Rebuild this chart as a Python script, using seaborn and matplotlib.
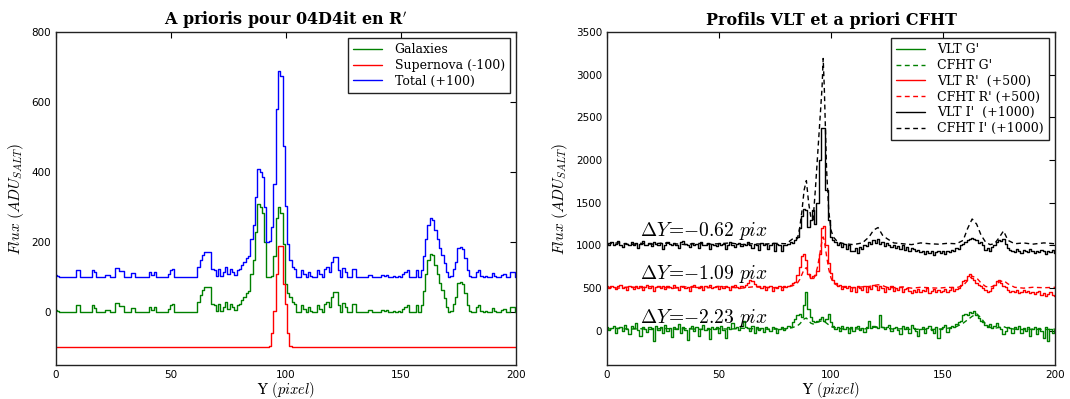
"""
A priori profiles (04D4it) and VLT/CFHT profile comparison
"""

import matplotlib
matplotlib.use("Agg")
import matplotlib.pyplot as plt
import numpy as np
import seaborn as sns

# ---- left panel: a priori profiles in R' (pixel 0..200) ----
pix = list(range(201))

galaxies = [
    8, 5, 0, 0, 0, 0, 0, 0, 0, 22,
    22, 0, 0, 0, 0, 0, 22, 14, 0, 0,
    0, 0, 6, 6, 0, 0, 28, 28, 18, 18,
    0, 0, 0, 12, 12, 0, 0, 0, 0, 0,
    0, 15, 8, 15, 0, 0, 0, 0, 0, 10,
    22, 25, 0, 0, 0, 0, 0, 0, 0, 0,
    0, 0, 30, 50, 65, 72, 72, 72, 25, 20,
    5, 25, 5, 15, 30, 10, 25, 15, 8, 20,
    25, 35, 45, 55, 60, 110, 150, 230, 310, 300,
    285, 200, 100, 100, 105, 160, 270, 300, 285, 195,
    80, 55, 45, 30, 25, 0, 0, 20, 10, 0,
    15, 5, 0, 0, 20, 10, 0, 25, 30, 15,
    45, 58, 58, 20, 0, 28, 15, 0, 0, 25,
    25, 0, 0, 0, 0, 0, 8, 8, 0, 0,
    0, 0, 8, 5, 8, 0, 0, 5, 0, 5,
    0, 10, 15, 20, 0, 0, 0, 20, 0, 20,
    60, 110, 150, 168, 165, 135, 110, 85, 65, 40,
    15, 0, 5, 25, 45, 85, 88, 80, 55, 20,
    5, 0, 0, 15, 20, 5, 0, 5, 0, 0,
    12, 5, 0, 0, 8, 10, 0, 0, 15, 15,
    0,
]

supernova = [0] * 93 + [5, 40, 105, 210, 290, 290, 180, 125, 40, 5] + [0] * 98

# ---- right panel: VLT profiles (raw, offsets added at plot time) ----
vlt_g = [
    40, 10, 30, 60, -20, 30, 50, 0, 70, 20,
    -40, 60, 30, 90, 10, -60, 40, 20, -10, 50,
    30, -120, 60, 10, 40, -30, 70, 0, 30, -70,
    50, 20, 80, -20, 40, 10, -110, 30, 60, 0,
    40, -60, 20, 70, 10, 30, -100, 50, 20, 40,
    -30, 60, 10, -80, 40, 20, 90, 30, 50, 10,
    60, 120, 40, 30, 0, 60, -20, 40, 10, 30,
    -10, 50, 20, 0, 40, 30, -20, 20, 40, 10,
    30, 60, 50, 100, 140, 180, 200, 160, 300, 450,
    260, 160, 120, 100, 120, 140, 160, 120, 140, 200,
    100, 60, 20, 40, 0, 60, 20, 40, -30, 50,
    0, 40, 60, 10, 30, -10, 40, 120, 30, 60,
    40, 30, 180, 50, 20, 40, 70, 0, 30, 50,
    10, -40, 60, 20, 40, -20, 70, 30, 0, -60,
    20, 40, -30, 30, 60, 10, -20, 50, -80, 20,
    40, 70, -10, 30, 60, 50, 80, 100, 120, 180,
    200, 190, 220, 210, 230, 190, 150, 120, 100, 70,
    40, 80, 30, 60, 90, 50, 20, -40, 0, 50,
    30, -20, 40, 20, 60, -30, 30, 0, 40, -60,
    20, 50, -40, 30, 0, -80, 40, -120, 20, -30,
    10,
]

vlt_r = [
    20, 0, 30, 10, -10, 20, 40, 0, 10, -20,
    30, 10, -10, 20, 0, 30, -20, 10, 40, 0,
    20, -30, 10, 30, 0, 20, -10, 30, 10, 0,
    40, 10, -20, 20, 30, 0, 10, -30, 20, 40,
    10, 0, 30, -20, 20, 10, 40, 0, 10, 30,
    -10, 20, 0, 30, 10, -20, 20, 40, 10, 0,
    30, 10, 40, 60, 90, 80, 50, 20, 30, 0,
    20, -20, 10, 30, -30, 10, 0, 30, -20, 20,
    10, 30, 40, 60, 70, 150, 250, 380, 400, 330,
    160, 120, 140, 150, 200, 400, 700, 730, 500, 300,
    180, 100, 60, 20, 40, -10, 30, 0, 20, -30,
    10, -50, 20, 0, -20, 30, -40, 10, -10, 40,
    20, -20, 30, 0, -40, 10, -10, 20, -30, 0,
    -20, 10, -40, -10, 0, -30, -60, -20, -40, -10,
    -50, -20, -30, 0, -60, -30, -10, -40, -20, -50,
    -30, -10, -40, -20, 10, -30, -10, 0, 40, 80,
    100, 140, 160, 120, 90, 60, 40, 20, 0, -20,
    -40, -30, 0, 40, 80, 90, 60, 30, 10, -20,
    -40, -30, -50, -20, -60, -40, -20, -50, -30, -60,
    -40, -70, -50, -30, -80, -60, -90, -70, -50, -80,
    -90,
]

vlt_i = [
    30, 10, 40, 0, 20, 50, 10, -20, 30, 20,
    0, 40, 10, 30, -30, 20, 50, 0, 10, 30,
    -10, 40, 20, 0, 30, -40, 10, 40, 20, 0,
    30, 10, -30, 40, 50, 20, 0, -20, 30, 10,
    20, -30, 40, 0, 10, 30, -40, 20, 10, -10,
    30, 0, 20, -40, 10, 40, 0, -20, 20, 30,
    -10, 20, 0, 40, 10, -30, 20, 10, -50, 30,
    0, 20, -40, 10, 30, -60, 20, 0, -70, 10,
    0, 20, 40, 30, 60, 100, 200, 350, 430, 420,
    220, 300, 420, 250, 500, 1000, 1380, 1380, 650, 300,
    100, 60, 40, 10, 30, -20, 20, -40, 0, -60,
    -70, -30, -90, -20, -40, 10, -10, 40, 20, 60,
    30, 70, 20, 40, -10, 30, 0, -20, 10, -30,
    -10, -40, 0, -50, -20, -60, -30, -40, -70, -50,
    -80, -60, -100, -70, -90, -60, -110, -80, -60, -90,
    -70, -100, -60, -80, -50, -60, -30, -40, 0, 20,
    40, 60, 80, 90, 70, 60, 30, 40, 0, -50,
    -30, -60, -20, 0, 40, 60, 50, 70, 20, -30,
    -50, -60, -80, -40, -70, -90, -50, -60, -80, -40,
    -70, -90, -60, -80, -50, -70, -100, -60, -80, -50,
    -90,
]

# CFHT a priori profiles, read at a coarser set of pixels
cfht_x = [0, 5, 10, 15, 20, 25, 30, 35, 40, 45, 50, 55, 60, 65, 70, 75, 80,
          83, 85, 86, 87, 88, 89, 90, 91, 92, 93, 94, 95, 96, 96.5, 97, 98, 99, 100, 101,
          103, 106, 110, 114, 117, 119, 121, 123, 125, 128, 132, 136, 140, 144, 148, 152, 156, 159,
          161, 163, 165, 167, 169, 171, 173, 175, 177, 179, 182, 186, 190, 195, 200]
cfht_g = [20, 30, 20, 25, 15, 30, 20, 25, 20, 15, 25, 20, 30, 25, 20, 20, 25,
          40, 60, 80, 110, 140, 150, 120, 90, 80, 90, 100, 110, 120, 120, 110, 90, 70, 50, 40,
          30, 20, 25, 20, 30, 40, 50, 40, 30, 20, 25, 15, 20, 15, 20, 30, 50, 90,
          130, 170, 200, 150, 80, 40, 30, 40, 50, 30, 20, 15, 20, 15, 20]
cfht_r = [10, 0, 15, 5, 20, 10, 0, 15, 10, 5, 20, 10, 0, 15, 10, 5, 10,
          30, 60, 100, 160, 220, 240, 180, 110, 100, 150, 250, 400, 560, 600, 560, 380, 220, 120, 60,
          30, 10, 5, 15, 20, 30, 40, 30, 10, 5, 15, 0, 10, 5, 0, 10, 5, 30,
          90, 140, 120, 60, 20, 10, 30, 70, 90, 50, 10, 0, 10, 5, 10]
cfht_i = [20, 30, 10, 25, 15, 30, 20, 10, 25, 15, 20, 30, 10, 20, 15, 25, 20,
          80, 80, 200, 400, 650, 760, 500, 330, 300, 650, 1050, 1450, 1850, 2190, 1850, 900, 400, 180, 100,
          40, 20, 10, 30, 100, 180, 210, 120, 80, 30, 20, 10, 30, 20, 15, 25, 20, 60,
          200, 310, 250, 120, 40, 10, 20, 90, 170, 60, 20, 30, 15, 30, 20]

offsets = {"G": 0, "R": 500, "I": 1000}
shifts = ["-2.23", "-1.09", "-0.62"]

assert len(galaxies) == len(supernova) == len(vlt_g) == len(vlt_r) == len(vlt_i) == 201
assert len(cfht_x) == len(cfht_g) == len(cfht_r) == len(cfht_i)

sns.set_style("white")
plt.rcParams["font.family"] = ["DejaVu Sans"]
plt.rcParams["mathtext.fontset"] = "cm"
plt.rcParams["text.color"] = "black"
plt.rcParams["axes.labelcolor"] = "black"
plt.rcParams["xtick.color"] = "black"
plt.rcParams["ytick.color"] = "black"
plt.rcParams["xtick.direction"] = "in"
plt.rcParams["ytick.direction"] = "in"
plt.rcParams["xtick.top"] = True
plt.rcParams["ytick.right"] = True
plt.rcParams["xtick.major.size"] = 4
plt.rcParams["ytick.major.size"] = 4
plt.rcParams["xtick.labelsize"] = 7.5
plt.rcParams["ytick.labelsize"] = 7.5
plt.rcParams["axes.edgecolor"] = "#222222"
plt.rcParams["axes.linewidth"] = 1.0

GREEN, RED, BLUE, BLACK = "#008000", "#ff0000", "#0000ff", "#000000"
serif = {"family": "DejaVu Serif"}

fig = plt.figure(figsize=(10.7, 3.99), dpi=100)
ax1 = fig.add_axes([0.0523, 0.0852, 0.4299, 0.8346])
ax2 = fig.add_axes([0.5673, 0.0852, 0.4187, 0.8346])

gal = np.array(galaxies)
sn = np.array(supernova)
sns.lineplot(x=pix, y=gal, ax=ax1, color=GREEN, lw=1, drawstyle="steps-mid",
             estimator=None, sort=False, label="Galaxies")
sns.lineplot(x=pix, y=sn - 100, ax=ax1, color=RED, lw=1, drawstyle="steps-mid",
             estimator=None, sort=False, label="Supernova (-100)")
sns.lineplot(x=pix, y=gal + sn + 100, ax=ax1, color=BLUE, lw=1, drawstyle="steps-mid",
             estimator=None, sort=False, label="Total (+100)")
ax1.set_xlim(0, 200)
ax1.set_ylim(-150, 800)
ax1.set_xticks([0, 50, 100, 150, 200])
ax1.set_yticks([0, 200, 400, 600, 800])
ax1.set_title("A prioris pour 04D4it en R$'$", fontsize=11.5, fontweight="bold", pad=5, **serif)

dash = (0, (3.5, 2.5))
for name, vlt, cfht, col, lab_v, lab_c in [
    ("G", vlt_g, cfht_g, GREEN, "VLT G'", "CFHT G'"),
    ("R", vlt_r, cfht_r, RED, "VLT R'  (+500)", "CFHT R' (+500)"),
    ("I", vlt_i, cfht_i, BLACK, "VLT I'  (+1000)", "CFHT I' (+1000)"),
]:
    off = offsets[name]
    sns.lineplot(x=pix, y=np.array(vlt) + off, ax=ax2, color=col, lw=1,
                 drawstyle="steps-mid", estimator=None, sort=False, label=lab_v)
    sns.lineplot(x=cfht_x, y=np.array(cfht) + off, ax=ax2, color=col, lw=1,
                 linestyle=dash, estimator=None, sort=False, label=lab_c)

for txt, ypos in zip(shifts, [97, 610, 1115]):
    ax2.text(14.7, ypos, r"$\Delta Y\!=\!{-}%s\ pix$" % txt.lstrip("-"), fontsize=14)

ax2.set_xlim(0, 200)
ax2.set_ylim(-400, 3500)
ax2.set_xticks([0, 50, 100, 150, 200])
ax2.set_yticks([0, 500, 1000, 1500, 2000, 2500, 3000, 3500])
ax2.set_title("Profils VLT et a priori CFHT", fontsize=11.5, fontweight="bold", pad=5, **serif)

for ax in (ax1, ax2):
    ax.set_xlabel("Y $(pixel)$", fontsize=10.5, labelpad=0, **serif)
    ax.set_ylabel(r"$Flux\ (ADU_{SALT})$", fontsize=11, labelpad=4)
    leg = ax.legend(loc="upper right", prop={"family": "DejaVu Serif", "size": 9},
                    fancybox=False, framealpha=1, edgecolor="#222222",
                    handlelength=2.3, borderpad=0.4, labelspacing=0.22, handletextpad=1.0)
    leg.get_frame().set_linewidth(1.0)

fig.savefig("out.png", dpi=100)
plt.close(fig)
